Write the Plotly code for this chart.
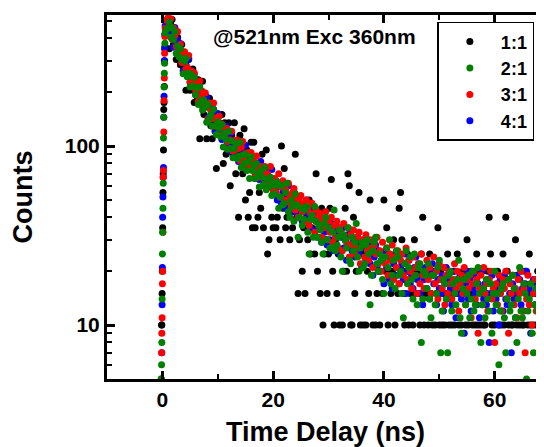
import plotly.graph_objects as go

# ---------------- data ----------------
series_names = ["1:1", "2:1", "3:1", "4:1"]
series_colors = ["#000000", "#008000", "#ff0000", "#0000ff"]

# rising edge (ns) shared by all series
rise_time_ns = [-0.2, -0.15, -0.1, -0.05, 0.0, 0.05, 0.1, 0.15, 0.2, 0.25, 0.3, 0.35, 0.4, 0.45, 0.5]

# decay channels: start and width of the TCSPC time bins (ns)
decay_start_ns = 0.75
channel_width_ns = 0.25

rise_1_1 = [5, 10, 10, 15, 20, 35, 55, 70, 95, 160, 175, 215, 300, 360, 420]
rise_2_1 = [5, 6, 8, 14, 25, 33, 45, 62, 111, 145, 214, 255, 290, 376, 430]
rise_3_1 = [3, 7, 9, 11, 17, 20, 33, 67, 73, 120, 180, 240, 330, 410, 455]
rise_4_1 = [2, 4, 7, 13, 21, 40, 52, 67, 76, 145, 190, 300, 350, 420, 470]

decay_1_1 = [
    430, 515, 350, 480, 510, 370, 390, 305, 405, 355,
    285, 370, 280, 315, 205, 270, 305, 205, 230, 270,
    175, 230, 180, 235, 110, 195, 230, 150, 170, 110,
    185, 185, 130, 110, 160, 135, 75, 150, 135, 115,
    150, 80, 135, 90, 115, 135, 60, 115, 90, 135,
    70, 95, 40, 115, 95, 70, 125, 50, 95, 40,
    55, 105, 35, 105, 35, 80, 40, 55, 45, 90,
    35, 60, 95, 25, 30, 60, 40, 35,
    55, 35, 40, 60, 30, 100, 45, 75, 35, 40, 60, 30, 45, 35, 55, 90,
    40, 15, 30, 45, 20, 35, 15, 40, 30, 50, 25, 35, 45, 25, 70, 20,
    35, 15, 45, 10, 25, 30, 15, 25, 45, 65, 20, 10, 30, 15, 25, 10,
    35, 10, 20, 45, 20, 70, 60, 10, 10, 40, 15, 20, 30, 55, 10, 25,
    10, 30, 10, 20, 15, 50, 25, 10, 30, 10, 15, 20, 10, 25, 15, 50,
    20, 35, 10, 25, 15, 20, 30, 10, 25, 15, 45, 55, 30, 15, 10, 20,
    25, 10, 15, 20, 10, 30, 15, 20, 15, 10, 25, 40, 10, 15, 20, 10,
    25, 15, 10, 20, 10, 15, 35, 10, 20, 10, 15, 10, 15, 25, 10, 15,
    10, 20, 10, 15, 25, 10, 15, 10, 20, 15, 10, 30, 10, 15, 20, 10,
    15, 10, 25, 10, 20, 10, 15, 10, 10, 15, 20, 40, 25, 10, 15, 10,
    15, 20, 10, 15, 10, 25, 10, 40, 20, 10, 15, 10, 10, 15, 30, 10,
    15, 10, 20, 10, 10, 20, 15, 10, 25, 10, 15, 10, 15, 10, 20, 10,
    10, 15, 10, 20,
]

decay_2_1 = [
    449, 456, 493, 405, 459, 393, 435, 329, 363, 316,
    350, 305, 254, 297, 310, 244, 255, 214, 250, 217,
    242, 193, 211, 171, 214, 179, 159, 181, 165, 136,
    171, 143, 150, 129, 160, 130, 116, 137, 126, 113,
    132, 99, 118, 109, 96, 121, 97, 107, 86, 97,
    103, 85, 88, 105, 76, 89, 80, 90, 73, 82,
    66, 87, 73, 78, 66, 80, 70, 59, 73, 67,
    61, 76, 57, 65, 59, 67, 53, 62,
    54, 60, 63, 45, 52, 60, 47, 48, 55, 62, 43, 40, 50, 46, 38, 54,
    47, 31, 40, 45, 36, 39, 44, 46, 33, 25, 39, 41, 31, 46, 38, 31,
    36, 34, 29, 25, 37, 40, 30, 35, 27, 27, 33, 44, 26, 28, 31, 34,
    24, 20, 32, 30, 27, 35, 23, 22, 31, 26, 29, 37, 24, 20, 27, 29,
    21, 22, 28, 30, 25, 13, 19, 26, 29, 31, 22, 20, 25, 23, 18, 15,
    24, 27, 21, 30, 17, 19, 23, 16, 26, 24, 19, 20, 15, 11, 22, 26,
    17, 21, 24, 18, 14, 25, 19, 13, 21, 22, 8, 14, 20, 19, 16, 22,
    14, 11, 19, 19, 13, 15, 21, 23, 7, 12, 18, 17, 14, 7, 19, 20,
    12, 17, 15, 13, 18, 23, 11, 9, 16, 18, 13, 15, 19, 11, 14, 20,
    12, 13, 17, 21, 15, 8, 13, 16, 11, 18, 14, 12, 17, 9, 15, 20,
    13, 15, 6, 12, 16, 17, 11, 7, 14, 18, 12, 13, 19, 16, 11, 8,
    14, 21, 12, 11, 17, 15, 5, 12, 14, 17, 9, 7, 13, 16, 12, 18,
    15, 9, 11, 14,
]

decay_3_1 = [
    505, 520, 467, 515, 395, 459, 415, 360, 437, 341,
    371, 293, 322, 337, 270, 275, 321, 228, 263, 232,
    256, 204, 223, 178, 231, 190, 202, 168, 198, 170,
    142, 174, 158, 142, 174, 129, 144, 130, 147, 115,
    133, 126, 115, 126, 106, 122, 108, 121, 94, 107,
    96, 108, 97, 83, 99, 106, 85, 91, 77, 92,
    81, 92, 75, 83, 69, 88, 75, 67, 77, 72,
    60, 77, 66, 70, 61, 77, 63, 57,
    66, 55, 61, 70, 52, 59, 64, 50, 57, 49, 62, 53, 46, 55, 58, 44,
    51, 40, 49, 53, 43, 47, 38, 50, 45, 36, 42, 48, 39, 33, 44, 40,
    37, 42, 31, 39, 35, 43, 30, 38, 33, 40, 29, 36, 31, 38, 27, 35,
    33, 26, 37, 30, 29, 35, 24, 32, 28, 34, 25, 31, 27, 33, 22, 30,
    29, 24, 32, 26, 23, 30, 27, 21, 28, 25, 31, 22, 26, 20, 29, 24,
    22, 27, 19, 25, 23, 28, 18, 24, 21, 26, 17, 23, 25, 19, 22, 27,
    18, 23, 20, 16, 24, 19, 21, 15, 22, 17, 25, 19, 16, 20, 23, 18,
    21, 15, 19, 24, 17, 20, 14, 22, 18, 16, 21, 13, 19, 15, 20, 17,
    14, 18, 22, 16, 20, 12, 17, 19, 15, 21, 13, 18, 16, 19, 11, 17,
    20, 14, 18, 9, 16, 19, 13, 21, 15, 17, 12, 18, 20, 14, 16, 8,
    17, 13, 19, 15, 12, 18, 16, 20, 14, 9, 17, 15, 19, 13, 16, 11,
    18, 15, 20, 12, 16, 7, 14, 19, 13, 17, 10, 15, 18, 12, 16, 9,
    14, 19, 11, 17,
]

decay_4_1 = [
    480, 479, 512, 420, 455, 357, 460, 373, 392, 321,
    374, 317, 264, 318, 286, 256, 310, 227, 253, 225,
    252, 194, 224, 210, 188, 204, 169, 194, 168, 188,
    145, 164, 144, 162, 144, 121, 144, 152, 121, 128,
    109, 129, 113, 129, 103, 114, 94, 119, 101, 91,
    105, 97, 82, 102, 86, 93, 80, 101, 82, 75,
    89, 83, 74, 87, 66, 80, 74, 65, 82, 66,
    74, 60, 68, 73, 60, 62, 74, 54,
    57, 64, 50, 59, 62, 48, 55, 58, 45, 53, 60, 47, 51, 43, 56, 46,
    49, 41, 52, 44, 38, 47, 43, 50, 40, 35, 45, 39, 42, 34, 38, 31,
    40, 36, 29, 38, 33, 39, 28, 36, 30, 37, 26, 34, 36, 28, 32, 25,
    31, 35, 27, 30, 23, 32, 28, 34, 26, 30, 24, 29, 31, 25, 28, 21,
    27, 30, 23, 26, 29, 22, 25, 19, 24, 28, 21, 26, 20, 25, 23, 17,
    26, 21, 24, 18, 23, 16, 22, 25, 19, 24, 17, 21, 22, 18, 25, 15,
    20, 23, 17, 19, 16, 21, 24, 18, 22, 15, 19, 13, 18, 21, 16, 20,
    14, 19, 22, 17, 20, 13, 18, 16, 15, 19, 12, 17, 21, 14, 18, 16,
    13, 17, 20, 11, 18, 15, 19, 14, 16, 9, 17, 20, 14, 18, 12, 16,
    19, 15, 13, 17, 11, 16, 20, 14, 17, 13, 18, 8, 15, 19, 12, 16,
    14, 17, 10, 18, 16, 12, 19, 14, 13, 18, 15, 7, 17, 14, 11, 19,
    15, 18, 13, 16, 12, 17, 20, 14, 16, 9, 15, 18, 13, 17, 12, 15,
    19, 14, 16, 11,
]

rise_counts = [rise_1_1, rise_2_1, rise_3_1, rise_4_1]
decay_counts = [decay_1_1, decay_2_1, decay_3_1, decay_4_1]

# ---------------- figure ----------------
FONT = "Liberation Sans, Arial, sans-serif"
fig = go.Figure()

draw_order = [0, 3, 2, 1]  # black first, green on top
for k in draw_order:
    dec = decay_counts[k]
    t = list(rise_time_ns) + [decay_start_ns + channel_width_ns * i for i in range(len(dec))]
    y = list(rise_counts[k]) + list(dec)
    fig.add_trace(go.Scatter(
        x=t, y=y, mode="markers", name=series_names[k],
        legendrank=k + 1,
        marker=dict(color=series_colors[k], size=7, line=dict(width=0)),
        hoverinfo="skip",
    ))

# the page body adds an 8px offset, so the figure is 8px smaller than the window
fig.update_layout(
    width=536, height=439,
    margin=dict(l=99, r=0, t=7, b=68, autoexpand=False),
    paper_bgcolor="white", plot_bgcolor="white",
    font=dict(family=FONT, color="black"),
    showlegend=True,
    legend=dict(
        x=0.756, y=0.981, xanchor="left", yanchor="top",
        bordercolor="black", borderwidth=1.5, bgcolor="white",
        font=dict(family=FONT, size=18, color="black", weight="bold"),
        itemwidth=52,
        tracegroupgap=0,
    ),
)

fig.update_xaxes(
    range=[-10, 68.9], showgrid=False, zeroline=False, automargin=False,
    showline=True, linewidth=3, linecolor="black", mirror="ticks",
    ticks="inside", ticklen=8, tickwidth=3, tickcolor="black",
    tick0=0, dtick=20,
    minor=dict(dtick=10, ticks="inside", ticklen=5, tickwidth=2, tickcolor="black", showgrid=False),
    tickfont=dict(family=FONT, size=21, color="black", weight="bold"),
    title=dict(text="Time Delay (ns)", font=dict(family=FONT, size=27, color="black", weight="bold"), standoff=13),
)

fig.update_yaxes(
    type="log", range=[0.69897, 2.7324], showgrid=False, zeroline=False, automargin=False,
    showline=True, linewidth=3, linecolor="black", mirror=False,
    ticks="inside", ticklen=8, tickwidth=3, tickcolor="black",
    tickvals=[10, 100], ticktext=["10", "100"],
    minor=dict(tickvals=[6, 7, 8, 9, 20, 30, 40, 50, 60, 70, 80, 90, 200, 300, 400, 500],
               ticks="inside", ticklen=5, tickwidth=2, tickcolor="black", showgrid=False),
    tickfont=dict(family=FONT, size=21, color="black", weight="bold"),
    title=dict(text="Counts", font=dict(family=FONT, size=27, color="black", weight="bold"), standoff=25),
)

fig.add_annotation(
    text="@521nm Exc 360nm", xref="paper", yref="paper", x=0.474, y=0.94,
    showarrow=False, xanchor="center", yanchor="middle",
    font=dict(family=FONT, size=21, color="black", weight="bold"),
)

fig.write_html("out.html")
